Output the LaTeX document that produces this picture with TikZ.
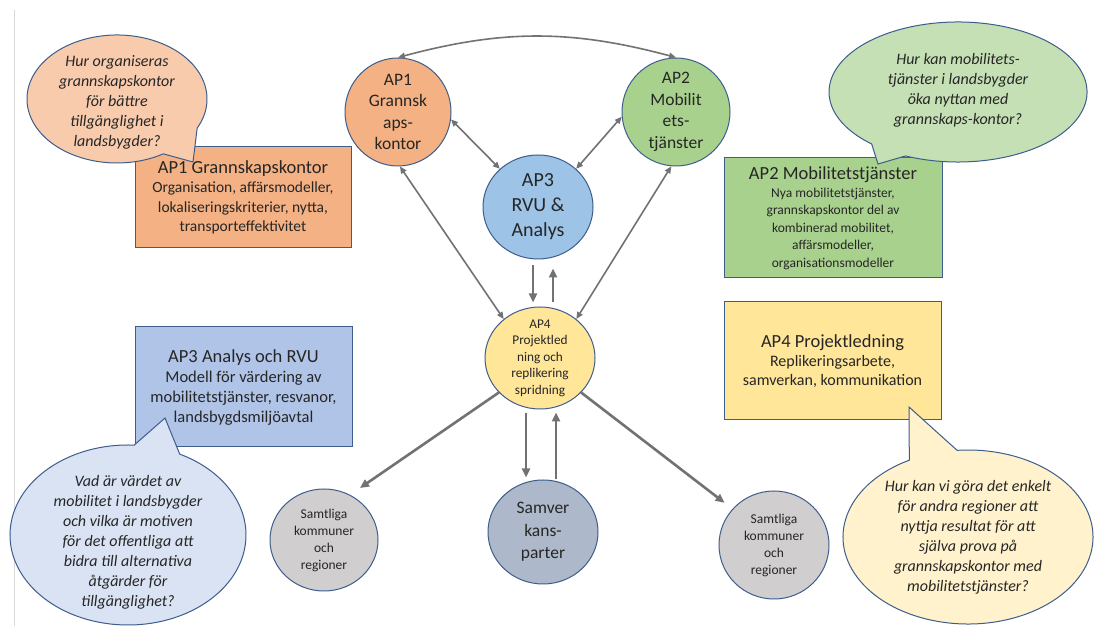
\documentclass[tikz,border=0pt]{standalone}
\usepackage{fontspec}
\setmainfont{Carlito}
\usetikzlibrary{arrows.meta,shapes.geometric}
\definecolor{txt}{HTML}{262626}
\definecolor{edge}{HTML}{3D5D8C}
\definecolor{arr}{HTML}{727272}
\definecolor{orC}{HTML}{F4B183}
\definecolor{orB}{HTML}{F8CBAD}
\definecolor{grC}{HTML}{A9D18E}
\definecolor{grB}{HTML}{C5E0B4}
\definecolor{blC}{HTML}{9DC3E6}
\definecolor{blX}{HTML}{B0C4E8}
\definecolor{blB}{HTML}{DAE3F3}
\definecolor{yeC}{HTML}{FFE699}
\definecolor{yeB}{HTML}{FFF2CC}
\definecolor{gyC}{HTML}{D0CECE}
\definecolor{svC}{HTML}{ADB9CA}
\definecolor{frameline}{HTML}{D9D9D9}
\begin{document}
\begin{tikzpicture}[x=1pt,y=1pt,
  apnode/.style={ellipse, draw=edge, line width=1pt, inner sep=0pt},
  lbl/.style={align=center, text=txt},
  wpbox/.style={rectangle, draw=edge, line width=1pt, inner sep=0pt, align=center, text=txt},
  bubtext/.style={align=center, text=txt, font=\fontsize{16}{20}\selectfont\itshape},
  bubble/.style={draw=edge, line width=1pt},
  link/.style={draw=arr, line width=1.6pt, {Triangle[length=7pt,width=6pt]}-{Triangle[length=7pt,width=6pt]}},
  flow/.style={draw=arr, line width=2.6pt, -{Triangle[length=9pt,width=8pt]}},
]
\useasboundingbox (0,0) rectangle (1097,626);
\fill[white] (0,0) rectangle (1097,626);
\draw[frameline, line width=0.8pt] (14,616) -- (14,0);

% work package boxes
\node[wpbox, fill=orC, minimum width=216, minimum height=101, font=\fontsize{15.5}{19.5}\selectfont] (box1) at (243,428.5)
  {{\fontsize{18.5}{22}\selectfont AP1 Grannskapskontor}\\Organisation, affärsmodeller,\\lokaliseringskriterier, nytta,\\transporteffektivitet};
\node[wpbox, fill=grC, minimum width=218, minimum height=120, font=\fontsize{13.5}{17.5}\selectfont] (box2) at (833,408)
  {{\fontsize{18.5}{22}\selectfont AP2 Mobilitetstjänster}\\Nya mobilitetstjänster,\\grannskapskontor del av\\kombinerad mobilitet,\\affärsmodeller,\\organisationsmodeller};
\node[wpbox, fill=blX, minimum width=217, minimum height=120, font=\fontsize{16.5}{20}\selectfont] (box3) at (243.5,239)
  {{\fontsize{18.5}{22}\selectfont AP3 Analys och RVU}\\Modell för värdering av\\mobilitetstjänster, resvanor,\\landsbygdsmiljöavtal};
\node[wpbox, fill=yeC, minimum width=217, minimum height=118, font=\fontsize{16}{19}\selectfont] (box4) at (832.5,265)
  {{\fontsize{18.5}{22}\selectfont AP4 Projektledning}\\Replikeringsarbete,\\samverkan, kommunikation};

% speech bubbles
\filldraw[bubble, fill=orB] (117,527) ++(-27:90pt and 64pt) arc[start angle=-27, end angle=301, x radius=90pt, y radius=64pt] -- (193,464) -- cycle;
\node[bubtext] (q1) at (117,524) {Hur organiseras\\grannskapskontor\\för bättre\\tillgänglighet i\\landsbygder?};
\filldraw[bubble, fill=grB] (958,534) ++(-114:129pt and 70pt) arc[start angle=-114, end angle=228, x radius=129pt, y radius=70pt] -- (878,462) -- cycle;
\node[bubtext] (q2) at (958,536) {Hur kan mobilitets-\\tjänster i landsbygder\\öka nyttan med\\grannskaps-kontor?};
\filldraw[bubble, fill=blB] (128,91) ++(87:118pt and 90pt) arc[start angle=87, end angle=424, x radius=118pt, y radius=90pt] -- (165,208) -- cycle;
\node[bubtext] (q3) at (128,84) {Vad är värdet av\\mobilitet i landsbygder\\och vilka är motiven\\för det offentliga att\\bidra till alternativa\\åtgärder för\\tillgänglighet?};
\filldraw[bubble, fill=yeB] (968,89) ++(118:125pt and 87pt) arc[start angle=118, end angle=455, x radius=125pt, y radius=87pt] -- (909,219) -- cycle;
\node[bubtext] (q4) at (968,89) {Hur kan vi göra det enkelt\\för andra regioner att\\nyttja resultat för att\\själva prova på\\grannskapskontor med\\mobilitetstjänster?};

% circles
\node[apnode, fill=orC, minimum width=106, minimum height=108,
  label={[lbl, font=\fontsize{17.5}{21.5}\selectfont]center:AP1\\Grannsk\\aps-\\kontor}] (ap1) at (398,514) {};
\node[apnode, fill=grC, minimum width=108, minimum height=108,
  label={[lbl, font=\fontsize{17.5}{21.5}\selectfont]center:AP2\\Mobilit\\ets-\\tjänster}] (ap2) at (676,514) {};
\node[apnode, fill=blC, minimum width=110, minimum height=104,
  label={[lbl, font=\fontsize{20}{25}\selectfont]center:AP3\\RVU \&\\Analys}] (ap3) at (538,419) {};
\node[apnode, fill=yeC, minimum width=110, minimum height=102,
  label={[lbl, font=\fontsize{13.3}{16.5}\selectfont]center:AP4\\Projektled\\ning och\\replikering\\spridning}] (ap4) at (540,268) {};
\node[apnode, fill=gyC, minimum width=108, minimum height=102,
  label={[lbl, font=\fontsize{13.5}{17}\selectfont]center:Samtliga\\kommuner\\och\\regioner}] (samL) at (324,86) {};
\node[apnode, fill=svC, minimum width=110, minimum height=104,
  label={[lbl, font=\fontsize{17.5}{22.5}\selectfont]center:Samver\\kans-\\parter}] (samv) at (543,94) {};
\node[apnode, fill=gyC, minimum width=110, minimum height=108,
  label={[lbl, font=\fontsize{13.5}{17}\selectfont]center:Samtliga\\kommuner\\och\\regioner}] (samR) at (774,81) {};

% connectors
\draw[link] (ap1.north) to[bend left=15] (ap2.north);
\draw[link] (ap1.-8) -- (ap3.135);
\draw[link] (ap2.185) -- (ap3.45);
\draw[link] (ap1.-88) -- (ap4.133);
\draw[link] (ap2.-95) -- (ap4.47);
\draw[flow] ([xshift=-5pt,yshift=-6pt]ap3.south) -- ([xshift=-7pt,yshift=4pt]ap4.north);
\draw[flow] ([xshift=13pt,yshift=4pt]ap4.north) -- ([xshift=15pt,yshift=-9pt]ap3.south);
\draw[flow] ([xshift=-14pt,yshift=-4pt]ap4.south) -- ([xshift=-17pt,yshift=2pt]samv.north);
\draw[flow] ([xshift=13pt]samv.north) -- ([xshift=16pt,yshift=-3pt]ap4.south);
\draw[flow, shorten >=12pt] (ap4.220) -- (samL.60);
\draw[flow, shorten >=10pt] (ap4.-40) -- (samR.139);
\end{tikzpicture}
\end{document}
